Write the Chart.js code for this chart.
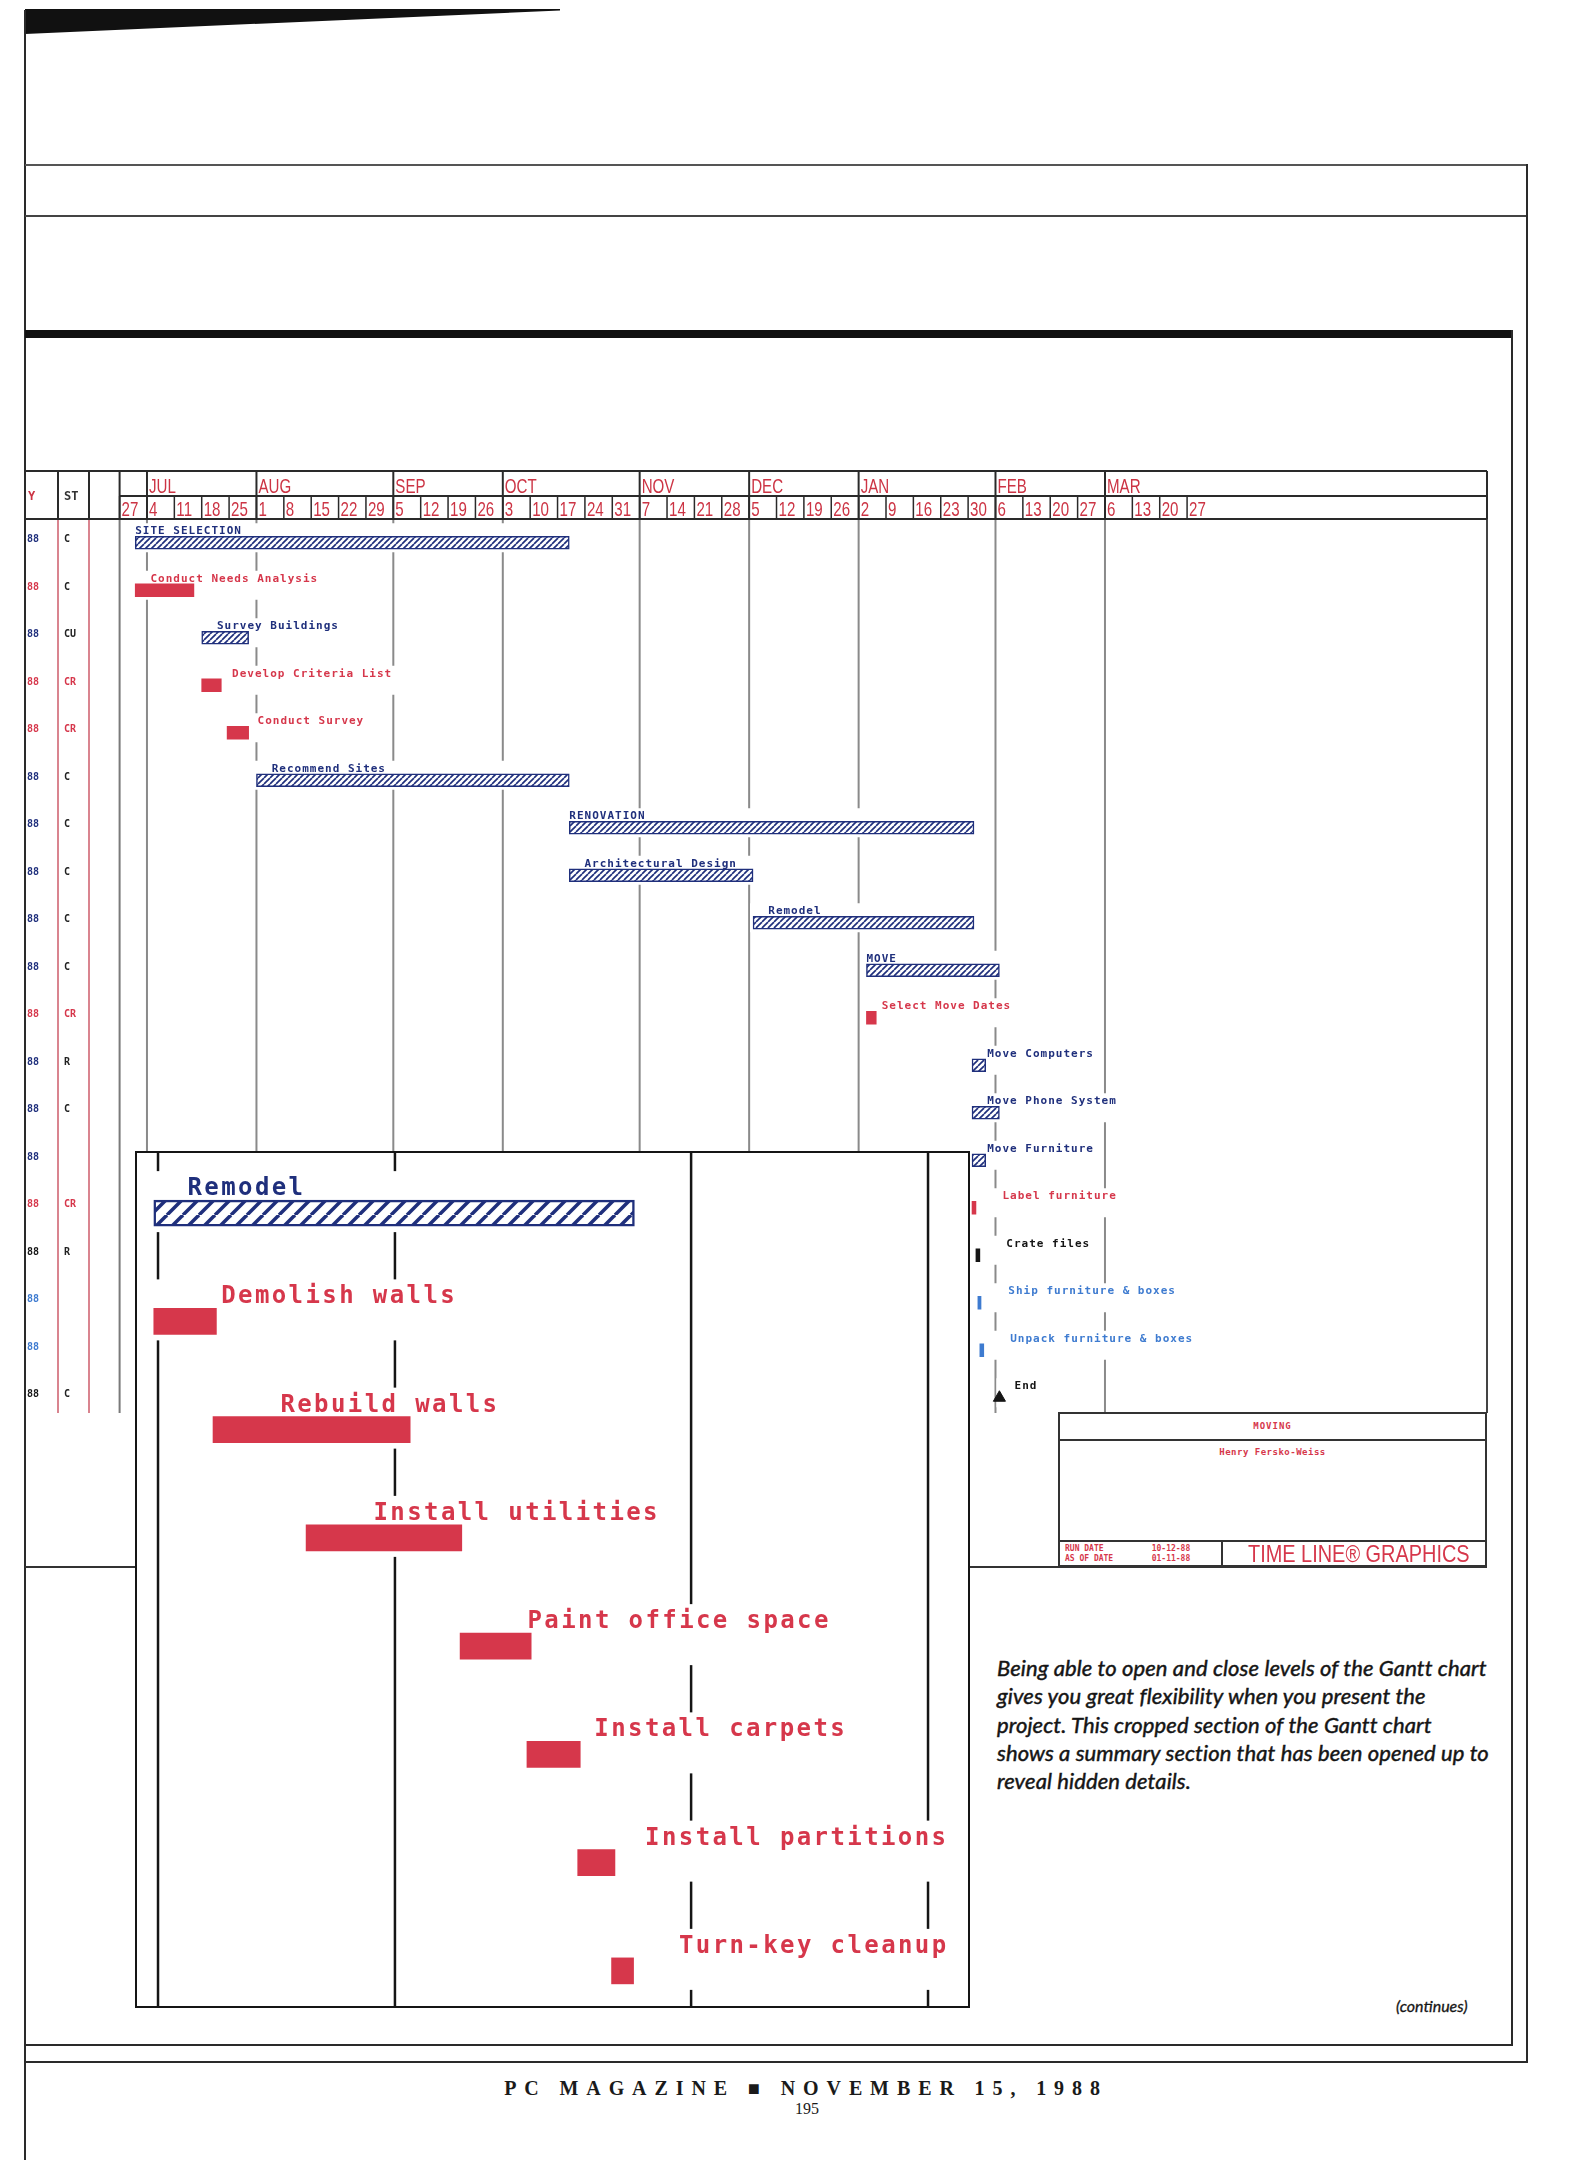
<!DOCTYPE html>
<html>
<head>
<meta charset="utf-8">
<title>Time Line Gantt chart</title>
<script src="https://cdn.jsdelivr.net/npm/chart.js@4.4.1/dist/chart.umd.min.js"></script>
<style>
  html, body { margin: 0; padding: 0; background: #fff; }
  #page { position: relative; width: 1577px; height: 2160px; overflow: hidden; background: #fff; }
  .rule { position: absolute; background: #2a2a2a; }
  #wedge { position: absolute; left: 25px; top: 9px; width: 535px; height: 25px; background: #111;
           clip-path: polygon(0 0, 100% 0, 100% 6%, 0 100%); }
  #gantt { position: absolute; left: 0; top: 460px; }
  #titleBox { position: absolute; left: 1058px; top: 1412px; width: 429px; height: 155px; box-sizing: border-box;
              border: 2px solid #333; background: #fff; z-index: 1; color: #d6374b;
              font-family: "DejaVu Sans Mono", monospace; font-weight: bold; }
  #titleBox .r1 { height: 25px; border-bottom: 2px solid #333; text-align: center; font-size: 9px; line-height: 25px; letter-spacing: 1px; }
  #titleBox .r2 { text-align: center; font-size: 9px; padding-top: 6px; letter-spacing: 0.5px; }
  #titleBox .r3 { position: absolute; left: 0; right: 0; bottom: 0; height: 23px; border-top: 2px solid #333; }
  #titleBox .dates { position: absolute; left: 0; top: 0; width: 163px; height: 23px; border-right: 2px solid #333;
                     font-size: 8px; line-height: 10px; padding: 2px 0 0 5px; box-sizing: border-box; overflow: hidden; white-space: pre; }
  #titleBox .brand { position: absolute; left: 188px; top: -2px; font-family: "Liberation Sans", sans-serif; font-weight: normal;
                     font-size: 24px; transform: scaleX(0.83); transform-origin: left top; white-space: nowrap; }
  #insetWrap { position: absolute; left: 135px; top: 1151px; width: 835px; height: 857px; overflow: hidden; background: #fff; z-index: 2; }
  #insetWrap canvas { position: absolute; left: 0; top: 0; }
  #insetFrame { position: absolute; left: 135px; top: 1151px; width: 835px; height: 857px; box-sizing: border-box;
                border: 2.5px solid #151515; z-index: 3; }
  #caption { position: absolute; left: 997px; top: 1654px; font-family: Lato, sans-serif; font-style: italic;
             font-size: 22px; line-height: 28.3px; letter-spacing: 0.1px; color: #151515; white-space: nowrap;
             -webkit-text-stroke: 0.45px #151515; }
  #cont { position: absolute; left: 1396px; top: 1996px; font-family: Lato, sans-serif; font-style: italic; font-size: 16px;
          color: #151515; -webkit-text-stroke: 0.3px #151515; }
  #footer { position: absolute; left: 306px; width: 1000px; top: 2077px; text-align: center; font-family: "Liberation Serif", serif;
            font-weight: bold; font-size: 20px; letter-spacing: 7.9px; color: #1a1a1a; }
  #folio { position: absolute; left: 707px; width: 200px; top: 2100px; text-align: center; font-family: "Liberation Serif", serif;
           font-size: 16px; color: #1a1a1a; }
</style>
</head>
<body>
<div id="page">
  <div id="wedge"></div>
  <div class="rule" style="left:24px;top:10px;width:2px;height:2150px;"></div>
  <!-- outer frame -->
  <div class="rule" style="left:25px;top:164px;width:1503px;height:2px;background:#555;"></div>
  <div class="rule" style="left:25px;top:215px;width:1503px;height:2px;background:#444;"></div>
  <div class="rule" style="left:1526px;top:164px;width:2px;height:1899px;"></div>
  <div class="rule" style="left:25px;top:2061px;width:1503px;height:2px;"></div>
  <!-- inner frame -->
  <div class="rule" style="left:25px;top:330px;width:1488px;height:8px;background:#111;"></div>
  <div class="rule" style="left:1511px;top:330px;width:2px;height:1716px;"></div>
  <div class="rule" style="left:25px;top:2044px;width:1488px;height:2px;"></div>
  <!-- bottom rule of the chart sheet -->
  <div class="rule" style="left:25px;top:1566px;width:1462px;height:2px;background:#333;"></div>

  <canvas id="gantt" width="1500" height="975"></canvas>

  <div id="titleBox">
    <div class="r1">MOVING</div>
    <div class="r2">Henry Fersko-Weiss</div>
    <div class="r3">
      <div class="dates">RUN DATE          10-12-88
AS OF DATE        01-11-88</div>
      <div class="brand">TIME LINE® GRAPHICS</div>
    </div>
  </div>

  <div id="insetWrap"><canvas id="detail" width="835" height="874"></canvas></div>
  <div id="insetFrame"></div>

  <div id="caption">Being able to open and close levels of the Gantt chart<br>gives you great flexibility when you present the<br>project. This cropped section of the Gantt chart<br>shows a summary section that has been opened up to<br>reveal hidden details.</div>
  <div id="cont">(continues)</div>
  <div id="footer">PC MAGAZINE ■ NOVEMBER 15, 1988</div>
  <div id="folio">195</div>
</div>

<script>
// days are counted from Monday, June 27, 1988 (day 0)
const weekLabels = ['27','4','11','18','25','1','8','15','22','29','5','12','19','26','3','10','17','24','31',
                    '7','14','21','28','5','12','19','26','2','9','16','23','30','6','13','20','27','6','13','20','27'];
const monthLabels = ['JUL','AUG','SEP','OCT','NOV','DEC','JAN','FEB','MAR'];
const monthStartDays = [7, 35, 70, 98, 133, 161, 189, 224, 252];

// main schedule
const taskNames = ['SITE SELECTION','Conduct Needs Analysis','Survey Buildings','Develop Criteria List','Conduct Survey',
                   'Recommend Sites','RENOVATION','Architectural Design','Remodel','MOVE','Select Move Dates',
                   'Move Computers','Move Phone System','Move Furniture','Label furniture','Crate files',
                   'Ship furniture & boxes','Unpack furniture & boxes','End'];
const taskLevels = [0, 1, 1, 2, 2, 1, 0, 1, 1, 0, 1, 1, 1, 1, 2, 2, 2, 2, 1];
const taskKinds = ['group','task','group','task','task','group','group','group','group','group','task',
                   'group','group','group','task','other','light','light','milestone'];
const taskStarts = [4, 4, 21, 21, 27.5, 35, 115, 115, 162, 191, 191, 218, 218, 218, 218, 219, 219.5, 220, 225];
const taskEnds   = [115, 19, 33, 26, 33, 115, 218.5, 162, 218.5, 225, 193.5, 221.5, 225, 221.5, 219, 220, 220.3, 221, 225];
const taskYear   = ['88','88','88','88','88','88','88','88','88','88','88','88','88','88','88','88','88','88','88'];
const taskStatus = ['C','C','CU','CR','CR','C','C','C','C','C','CR','R','C','','CR','R','','','C'];

// opened-up Remodel section
const detailNames = ['Remodel','Demolish walls','Rebuild walls','Install utilities','Paint office space',
                     'Install carpets','Install partitions','Turn-key cleanup'];
const detailLevels = [1, 2, 2, 2, 2, 2, 2, 2];
const detailKinds = ['group','task','task','task','task','task','task','task'];
const detailStarts = [160.5, 160.5, 167.5, 178.5, 196.7, 204.6, 210.6, 214.6];
const detailEnds   = [217.3, 167.9, 190.8, 196.9, 205.1, 210.9, 215, 217.2];
const detailGridDays = [161, 189, 224, 252];

const NAVY = '#1f2f7c', RED = '#d6374b', LIGHT = '#3e7bd0', BLACK = '#151515', HEAD_RED = '#cc3444';
const kindColor = { group: NAVY, task: RED, other: BLACK, light: LIGHT, milestone: BLACK };

function makeHatch(size, lineW, color) {
  const c = document.createElement('canvas');
  c.width = size; c.height = size;
  const g = c.getContext('2d');
  g.fillStyle = '#fff';
  g.fillRect(0, 0, size, size);
  g.strokeStyle = color;
  g.lineWidth = lineW;
  for (let k = -1; k <= 1; k++) {
    g.beginPath();
    g.moveTo(k * size, size);
    g.lineTo(k * size + size, 0);
    g.stroke();
  }
  return g.createPattern(c, 'repeat');
}

// draws grid lines, white clearances, and the task names above each bar
function ganttLayer(o) {
  function geom(chart, i) {
    const xs = chart.scales.x, ys = chart.scales.y, ctx = chart.ctx;
    const x0 = xs.getPixelForValue(o.starts[i]);
    const x1 = xs.getPixelForValue(o.ends[i]);
    const yc = ys.getPixelForValue(i);
    const barTop = yc - o.barH / 2;
    const lx = x0 + o.levels[i] * o.indent;
    const base = barTop - o.gap;
    ctx.font = o.font;
    ctx.letterSpacing = o.spacing;
    const w = ctx.measureText(o.names[i]).width;
    return { x0, x1, yc, barTop, lx, base, w };
  }
  return {
    id: o.id,
    beforeDatasetsDraw(chart) {
      const ctx = chart.ctx, xs = chart.scales.x;
      ctx.save();
      ctx.strokeStyle = o.gridColor;
      ctx.lineWidth = o.gridWidth;
      o.gridDays.forEach(d => {
        const px = xs.getPixelForValue(d);
        ctx.beginPath(); ctx.moveTo(px, o.gridTop); ctx.lineTo(px, o.gridBottom); ctx.stroke();
      });
      ctx.fillStyle = '#fff';
      o.names.forEach((n, i) => {
        const g = geom(chart, i);
        const left = Math.min(g.x0, g.lx) - o.pad;
        const right = Math.max(g.x1, g.lx + g.w) + o.pad;
        const top = g.base - o.cap - o.pad;
        const bottom = g.barTop + o.barH + o.pad;
        ctx.fillRect(left, top, right - left, bottom - top);
      });
      ctx.restore();
    },
    afterDatasetsDraw(chart) {
      const ctx = chart.ctx;
      ctx.save();
      o.names.forEach((n, i) => {
        const g = geom(chart, i);
        ctx.fillStyle = kindColor[o.kinds[i]];
        ctx.textBaseline = 'alphabetic';
        ctx.fillText(n, g.lx, g.base);
      });
      ctx.restore();
    }
  };
}

function condensed(ctx, text, x, y, sx) {
  ctx.save();
  ctx.translate(x, y);
  ctx.scale(sx, 1);
  ctx.fillText(text, 0, 0);
  ctx.restore();
}

// header rows and the left-hand columns of the main chart
const headerLayer = {
  id: 'header',
  afterDraw(chart) {
    const ctx = chart.ctx, xs = chart.scales.x, ys = chart.scales.y, area = chart.chartArea;
    const top = 11, mid = 36, bot = area.top, L = 25, R = area.right, bodyEnd = 953;
    const v = (x, a, b) => { ctx.beginPath(); ctx.moveTo(x, a); ctx.lineTo(x, b); ctx.stroke(); };
    const h = (a, b, y) => { ctx.beginPath(); ctx.moveTo(a, y); ctx.lineTo(b, y); ctx.stroke(); };
    ctx.save();
    ctx.strokeStyle = '#d9848f'; ctx.lineWidth = 2;
    [58, 89].forEach(x => v(x, bot, bodyEnd));
    ctx.strokeStyle = '#7a7a7a'; ctx.lineWidth = 2;
    v(area.left, bot, bodyEnd);
    ctx.strokeStyle = '#444';
    v(R, bot, bodyEnd);

    ctx.strokeStyle = '#2a2a2a'; ctx.lineWidth = 2;
    h(L, R, top); h(area.left, R, mid); h(L, R, bot);
    [58, 89, area.left, R].forEach(x => v(x, top, bot));
    monthStartDays.forEach(d => v(xs.getPixelForValue(d), top, bot));
    ctx.lineWidth = 1.5;
    weekLabels.forEach((w, i) => v(xs.getPixelForValue(i * 7), mid, bot));

    ctx.fillStyle = HEAD_RED;
    ctx.font = '21px "Liberation Sans", sans-serif';
    monthLabels.forEach((m, i) => condensed(ctx, m, xs.getPixelForValue(monthStartDays[i]) + 2, mid - 3, 0.72));
    weekLabels.forEach((w, i) => condensed(ctx, w, xs.getPixelForValue(i * 7) + 2, bot - 3, 0.72));
    ctx.font = 'bold 12px "DejaVu Sans Mono", monospace';
    ctx.fillText('Y', 28, 40);
    ctx.fillStyle = '#333';
    ctx.fillText('ST', 64, 40);

    ctx.font = 'bold 10px "DejaVu Sans Mono", monospace';
    ctx.textBaseline = 'middle';
    taskNames.forEach((n, i) => {
      const y = ys.getPixelForValue(i) - 3;
      ctx.fillStyle = kindColor[taskKinds[i]];
      ctx.fillText(taskYear[i], 27, y);
      ctx.fillStyle = taskStatus[i] === 'CR' ? RED : '#222';
      ctx.fillText(taskStatus[i], 64, y);
    });
    ctx.restore();
  }
};

function main() {
  const hatchSmall = makeHatch(6, 1.7, NAVY);
  const hatchLarge = makeHatch(16, 3.5, NAVY);

  new Chart(document.getElementById('gantt'), {
    type: 'bar',
    data: {
      labels: taskNames,
      datasets: [{
        data: taskNames.map((n, i) => taskKinds[i] === 'milestone' ? null : [taskStarts[i], taskEnds[i]]),
        backgroundColor: c => taskKinds[c.dataIndex] === 'group' ? hatchSmall : kindColor[taskKinds[c.dataIndex]],
        borderColor: NAVY,
        borderWidth: c => taskKinds[c.dataIndex] === 'group' ? 1.5 : 0,
        borderSkipped: false,
        barThickness: 13
      }, {
        type: 'scatter',
        data: taskNames.map((n, i) => taskKinds[i] === 'milestone' ? { x: taskStarts[i], y: n } : null).filter(p => p),
        pointStyle: 'triangle',
        pointRadius: 7,
        backgroundColor: BLACK,
        borderColor: BLACK
      }]
    },
    options: {
      indexAxis: 'y',
      responsive: false,
      animation: false,
      layout: { padding: { left: 119.6, right: 13, top: 59, bottom: 13.5 } },
      scales: {
        x: { type: 'linear', min: 0, max: 349.7, display: false },
        y: { type: 'category', offset: true, display: false }
      },
      plugins: { legend: { display: false }, tooltip: { enabled: false } }
    },
    plugins: [
      ganttLayer({
        id: 'mainLayer', names: taskNames, levels: taskLevels, kinds: taskKinds, starts: taskStarts, ends: taskEnds,
        font: 'bold 11px "DejaVu Sans Mono", monospace', spacing: '1px', indent: 15.2,
        barH: 13, gap: 2, cap: 8, pad: 3,
        gridDays: monthStartDays, gridColor: '#8a8a8a', gridWidth: 2, gridTop: 59, gridBottom: 953
      }),
      headerLayer
    ]
  });

  new Chart(document.getElementById('detail'), {
    type: 'bar',
    data: {
      labels: detailNames,
      datasets: [{
        data: detailNames.map((n, i) => [detailStarts[i], detailEnds[i]]),
        backgroundColor: c => detailKinds[c.dataIndex] === 'group' ? hatchLarge : kindColor[detailKinds[c.dataIndex]],
        borderColor: NAVY,
        borderWidth: c => detailKinds[c.dataIndex] === 'group' ? 2.5 : 0,
        borderSkipped: false,
        barThickness: 26
      }]
    },
    options: {
      indexAxis: 'y',
      responsive: false,
      animation: false,
      layout: { padding: { left: 0, right: 0, top: 8, bottom: 0 } },
      scales: {
        x: { type: 'linear', min: 158.28, max: 256.96, display: false },
        y: { type: 'category', offset: true, display: false }
      },
      plugins: { legend: { display: false }, tooltip: { enabled: false } }
    },
    plugins: [
      ganttLayer({
        id: 'detailLayer', names: detailNames, levels: detailLevels, kinds: detailKinds, starts: detailStarts, ends: detailEnds,
        font: 'bold 24px "DejaVu Sans Mono", monospace', spacing: '2.4px', indent: 33.7,
        barH: 26, gap: 5, cap: 18, pad: 6,
        gridDays: detailGridDays, gridColor: '#151515', gridWidth: 2.5, gridTop: 0, gridBottom: 874
      })
    ]
  });
}

main();
</script>
</body>
</html>
